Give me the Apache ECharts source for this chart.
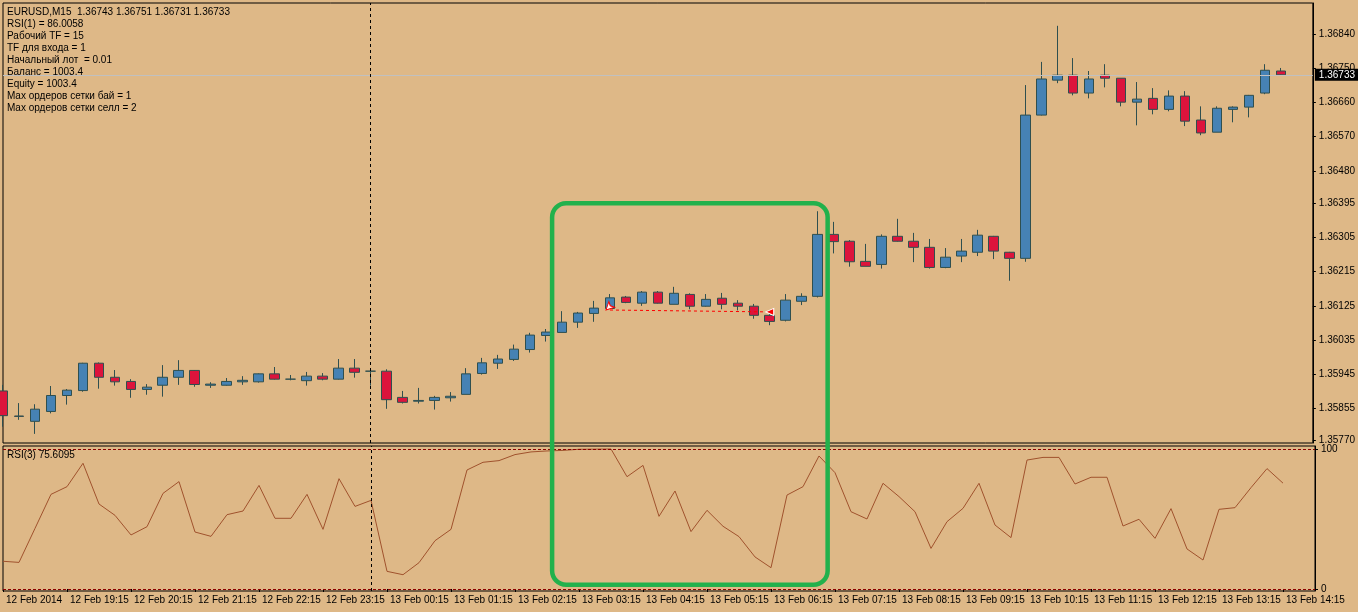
<!DOCTYPE html>
<html>
<head>
<meta charset="utf-8">
<script src="https://cdn.jsdelivr.net/npm/echarts@6.0.0/dist/echarts.min.js"></script>
<style>
    html, body { margin: 0; padding: 0; background: #DEB887; }
    #chart { width: 1358px; height: 612px; }
</style>
</head>
<body>
<div id="chart"></div>
<script>
// EURUSD M15 свечи, 12 Feb 18:15 .. 13 Feb 14:15
let opens = [1.35901,1.35835,1.35821,1.35847,1.35889,1.35902,1.35974,1.35937,1.35926,1.35905,
    1.35916,1.35937,1.35955,1.35916,1.35916,1.35925,1.35925,1.35946,1.35932,1.35928,
    1.35940,1.35932,1.35961,1.35953,1.35953,1.35884,1.35874,1.35876,1.35883,1.35892,
    1.35947,1.35974,1.35984,1.36010,1.36047,1.36055,1.36082,1.36105,1.36118,1.36148,
    1.36132,1.36161,1.36129,1.36155,1.36124,1.36145,1.36132,1.36124,1.36100,1.36087,
    1.36137,1.36150,1.36313,1.36295,1.36242,1.36234,1.36308,1.36295,1.36279,1.36226,
    1.36256,1.36266,1.36308,1.36266,1.36250,1.36627,1.36719,1.36732,1.36685,1.36732,
    1.36724,1.36661,1.36671,1.36642,1.36677,1.36614,1.36582,1.36642,1.36648,1.36685,
    1.36743];
let closes = [1.35836,1.35834,1.35853,1.35889,1.35903,1.35974,1.35937,1.35925,1.35905,1.35911,
    1.35937,1.35955,1.35918,1.35919,1.35926,1.35929,1.35946,1.35932,1.35932,1.35940,
    1.35932,1.35961,1.35950,1.35953,1.35878,1.35871,1.35876,1.35884,1.35887,1.35946,
    1.35975,1.35985,1.36011,1.36048,1.36056,1.36082,1.36106,1.36119,1.36146,1.36134,
    1.36161,1.36132,1.36158,1.36124,1.36142,1.36129,1.36124,1.36100,1.36084,1.36140,
    1.36150,1.36313,1.36294,1.36241,1.36229,1.36308,1.36295,1.36279,1.36226,1.36253,
    1.36269,1.36311,1.36269,1.36250,1.36627,1.36722,1.36732,1.36685,1.36722,1.36724,
    1.36661,1.36669,1.36642,1.36677,1.36611,1.36580,1.36645,1.36648,1.36679,1.36745,
    1.36733];
let lows = [1.35807,1.35825,1.35788,1.35842,1.35865,1.35899,1.35907,1.35915,1.35883,1.35891,
    1.35886,1.35917,1.35912,1.35909,1.35915,1.35917,1.35923,1.35931,1.35929,1.35915,
    1.35929,1.35931,1.35936,1.35915,1.35854,1.35868,1.35868,1.35852,1.35873,1.35892,
    1.35944,1.35959,1.35980,1.36002,1.36031,1.36055,1.36067,1.36083,1.36118,1.36132,
    1.36125,1.36131,1.36129,1.36116,1.36123,1.36116,1.36113,1.36091,1.36074,1.36084,
    1.36127,1.36147,1.36263,1.36228,1.36229,1.36223,1.36294,1.36240,1.36223,1.36224,
    1.36240,1.36256,1.36248,1.36191,1.36241,1.36626,1.36711,1.36679,1.36671,1.36700,
    1.36650,1.36600,1.36629,1.36637,1.36598,1.36574,1.36582,1.36608,1.36621,1.36682,
    1.36731];
let highs = [1.35917,1.35869,1.35866,1.35914,1.35906,1.35975,1.35976,1.35956,1.35932,1.35919,
    1.35969,1.35982,1.35956,1.35924,1.35935,1.35940,1.35947,1.35964,1.35943,1.35951,
    1.35948,1.35985,1.35985,1.35961,1.35958,1.35901,1.35909,1.35888,1.35898,1.35961,
    1.35988,1.35996,1.36023,1.36054,1.36064,1.36111,1.36109,1.36138,1.36156,1.36151,
    1.36164,1.36164,1.36175,1.36158,1.36156,1.36159,1.36140,1.36130,1.36108,1.36156,
    1.36158,1.36374,1.36346,1.36298,1.36288,1.36313,1.36354,1.36317,1.36301,1.36277,
    1.36301,1.36325,1.36309,1.36267,1.36706,1.36767,1.36862,1.36777,1.36743,1.36761,
    1.36724,1.36714,1.36698,1.36692,1.36690,1.36650,1.36650,1.36650,1.36680,1.36761,
    1.36751];
// RSI(3)
let rsiValues = [19.8,19.0,43.3,67.6,73.1,89.8,60.7,52.6,38.6,44.5,
    68.3,76.7,40.7,37.6,53.1,55.7,74.0,50.5,50.5,67.6,
    42.6,78.8,59.0,63.3,12.6,10.2,18.8,34.5,42.6,85.0,
    90.5,91.7,96.0,97.9,98.6,99.0,99.8,99.9,100,80.2,
    88.3,51.9,70.0,41.0,56.2,44.8,37.4,22.9,15.2,67.1,
    73.1,95.0,83.1,55.2,50.0,75.5,66.0,55.2,29.0,48.1,
    57.6,75.5,45.7,36.7,92.1,94.0,94.0,75.0,79.8,79.8,
    45.0,49.8,36.2,57.4,28.6,20.7,56.9,58.1,72.4,86.0,
    75.61];
let priceTicks = [1.35770,1.35855,1.35945,1.36035,1.36125,1.36215,1.36305,1.36395,1.36480,1.36570,1.36660,1.36750,1.36840];
let rsiTicks = [0, 100];
let lastPrice = 1.36733;
let infoLines = [
    'EURUSD,M15  1.36743 1.36751 1.36731 1.36733',
    'RSI(1) = 86.0058',
    'Рабочий TF = 15',
    'TF для входа = 1',
    'Начальный лот  = 0.01',
    'Баланс = 1003.4',
    'Equity = 1003.4',
    'Max ордеров сетки бай = 1',
    'Max ордеров сетки селл = 2'
];
let rsiTitle = 'RSI(3) 75.6095';
// ордер: открытие / закрытие
let orderOpen = ['13 Feb 03:45', 1.36114];
let orderClose = ['13 Feb 06:15', 1.36109];
let daySeparator = '13 Feb 00:00';
// зелёная рамка
let boxFrom = '13 Feb 02:45', boxTo = '13 Feb 07:15', boxTopPrice = 1.36395, boxBottomRsi = 3;

// категории времени по 15 минут (две пустые справа - отступ графика)
let categories = [];
for (let k = 0; k < opens.length + 2; k++) {
    let m = 18 * 60 + 15 + k * 15;
    let day = m >= 1440 ? '13 Feb' : '12 Feb';
    m = m % 1440;
    categories.push(day + ' ' + String(Math.floor(m / 60)).padStart(2, '0') + ':' + String(m % 60).padStart(2, '0'));
}
let candles = opens.map((o, i) => [o, closes[i], lows[i], highs[i]]);

const FONT = 'Liberation Sans';
const BLACK = '#000';

let option = {
    backgroundColor: '#DEB887',
    animation: false,
    textStyle: { fontFamily: FONT },
    title: [
        {
            text: infoLines.join('\n'),
            left: 7, top: 6, padding: 0,
            textStyle: { color: BLACK, fontSize: 10, fontWeight: 'normal', lineHeight: 12, fontFamily: FONT }
        },
        {
            text: rsiTitle,
            left: 7, top: 450, padding: 0,
            textStyle: { color: BLACK, fontSize: 10, fontWeight: 'normal', fontFamily: FONT }
        }
    ],
    grid: [
        { left: 3, width: 1312, top: 3, height: 440, show: true, borderColor: BLACK, borderWidth: 1, backgroundColor: 'transparent' },
        { left: 3, width: 1312, top: 446, height: 145, show: true, borderColor: BLACK, borderWidth: 1, backgroundColor: 'transparent' }
    ],
    xAxis: [
        {
            type: 'category', gridIndex: 0, data: categories, boundaryGap: false,
            axisLine: { show: false }, axisTick: { show: false }, axisLabel: { show: false }, splitLine: { show: false }
        },
        {
            type: 'category', gridIndex: 1, data: categories, boundaryGap: false,
            axisLine: { show: false },
            axisTick: { show: true, interval: 3, length: 3, lineStyle: { color: BLACK } },
            axisLabel: {
                interval: 3, align: 'left', padding: [0, 0, 0, 3], margin: 4,
                color: BLACK, fontSize: 10, fontFamily: FONT,
                formatter: (v, idx) => idx === 0 ? '12 Feb 2014' : v
            },
            splitLine: { show: false }
        }
    ],
    yAxis: [
        {
            type: 'value', gridIndex: 0, position: 'right', min: 1.35764, max: 1.36922, scale: true,
            axisLine: { show: true, lineStyle: { color: BLACK } },
            axisTick: { show: true, length: 3, customValues: priceTicks, lineStyle: { color: BLACK } },
            axisLabel: { customValues: priceTicks, margin: 6, color: BLACK, fontSize: 10, fontFamily: FONT, formatter: v => v.toFixed(5) },
            splitLine: { show: false }
        },
        {
            type: 'value', gridIndex: 1, position: 'right', min: -1.43, max: 102.14,
            axisLine: { show: true, lineStyle: { color: BLACK } },
            axisTick: { show: true, length: 3, customValues: rsiTicks, lineStyle: { color: BLACK } },
            axisLabel: { customValues: rsiTicks, margin: 6, color: BLACK, fontSize: 10, fontFamily: FONT },
            splitLine: { show: false }
        }
    ],
    series: [
        {
            name: 'EURUSD', type: 'candlestick', xAxisIndex: 0, yAxisIndex: 0,
            data: candles, barWidth: 10, clip: true,
            itemStyle: {
                color: '#4682B4', color0: '#DC143C',
                borderColor: '#2F4F4F', borderColor0: '#2F4F4F', borderColorDoji: '#2F4F4F', borderWidth: 1
            },
            markLine: {
                silent: true, symbol: ['none', 'none'], animation: false,
                data: [
                    // линия текущей цены (по всей ширине окна)
                    [
                        {
                            coord: [categories[0], lastPrice],
                            lineStyle: { color: '#C0C0C0', type: 'solid', width: 1 },
                            label: {
                                show: true, position: 'end', distance: 2, formatter: lastPrice.toFixed(5),
                                color: '#fff', backgroundColor: '#000', padding: [1, 4, 1, 4], fontSize: 10, fontFamily: FONT
                            }
                        },
                        { coord: [categories[categories.length - 1], lastPrice] }
                    ],
                    // разделитель дней
                    { xAxis: daySeparator, lineStyle: { color: BLACK, type: [3, 3], width: 1 }, label: { show: false } },
                    // ордер
                    [
                        { coord: orderOpen, lineStyle: { color: '#FF0000', type: [3, 3], width: 1 }, label: { show: false } },
                        { coord: orderClose }
                    ]
                ]
            },
            markPoint: {
                silent: true, animation: false, label: { show: false },
                data: [
                    { coord: orderOpen, symbol: 'arrow', symbolSize: [6, 8], symbolRotate: 135, symbolOffset: [-4, 0],
                      itemStyle: { color: '#fff', borderColor: '#FF0000', borderWidth: 1 } },
                    { coord: orderClose, symbol: 'triangle', symbolSize: [7, 8], symbolRotate: 90,
                      itemStyle: { color: '#FF0000', borderColor: '#fff', borderWidth: 1 } }
                ]
            }
        },
        {
            name: 'RSI', type: 'line', xAxisIndex: 1, yAxisIndex: 1,
            data: rsiValues, symbol: 'none',
            lineStyle: { color: '#A0522D', width: 1 },
            markLine: {
                silent: true, symbol: ['none', 'none'], animation: false,
                label: { show: false },
                data: [
                    { yAxis: 100, lineStyle: { color: '#8B0000', type: [3, 2], width: 1 } },
                    { yAxis: 0, lineStyle: { color: '#8B0000', type: [3, 2], width: 1 } },
                    { xAxis: daySeparator, lineStyle: { color: BLACK, type: [3, 3], width: 1 } }
                ]
            }
        }
    ]
};

let myChart = echarts.init(document.getElementById('chart'));
myChart.setOption(option);

// зелёная рамка вокруг участка
let x1 = myChart.convertToPixel({ xAxisIndex: 0 }, boxFrom) + 6;
let x2 = myChart.convertToPixel({ xAxisIndex: 0 }, boxTo) - 6;
let y1 = myChart.convertToPixel({ yAxisIndex: 0 }, boxTopPrice);
let y2 = myChart.convertToPixel({ yAxisIndex: 1 }, boxBottomRsi);
myChart.setOption({
    graphic: [{
        type: 'rect', z: 100, silent: true,
        shape: { x: x1, y: y1, width: x2 - x1, height: y2 - y1, r: 14 },
        style: { fill: 'none', stroke: '#22B14C', lineWidth: 4.5 }
    }]
});
</script>
</body>
</html>
